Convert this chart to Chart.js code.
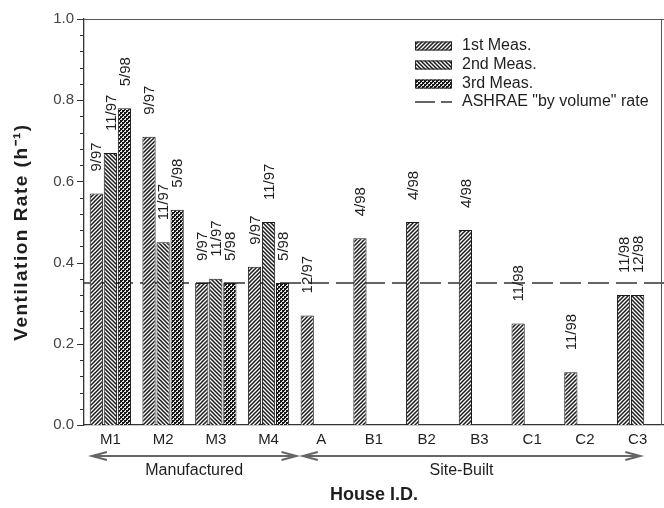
<!DOCTYPE html>
<html>
<head>
<meta charset="utf-8">
<script src="https://cdn.jsdelivr.net/npm/chart.js@4.4.1/dist/chart.umd.min.js"></script>
<style>
  html, body { margin: 0; padding: 0; background: #fff; overflow: hidden; }
  #wrap { width: 664px; height: 508px; position: relative; }
</style>
</head>
<body>
<div id="wrap"><canvas id="chart" width="664" height="508"></canvas></div>
<script>
// Houses and measured ventilation rates (h^-1)
const houses = ['M1', 'M2', 'M3', 'M4', 'A', 'B1', 'B2', 'B3', 'C1', 'C2', 'C3'];
const meas1 = [0.57, 0.71, 0.35, 0.39, 0.27, 0.46, 0.50, 0.48, 0.25, 0.13, 0.32];
const meas2 = [0.67, 0.45, 0.36, 0.50, null, null, null, null, null, null, 0.32];
const meas3 = [0.78, 0.53, 0.35, 0.35, null, null, null, null, null, null, null];

// Measurement dates shown above each bar
const dates1 = ['9/97', '9/97', '9/97', '9/97', '12/97', '4/98', '4/98', '4/98', '11/98', '11/98', '11/98'];
const dates2 = ['11/97', '11/97', '11/97', '11/97', '', '', '', '', '', '', '12/98'];
const dates3 = ['5/98', '5/98', '5/98', '5/98', '', '', '', '', '', '', ''];

const seriesNames = ['1st Meas.', '2nd Meas.', '3rd Meas.'];
const ashraeRate = 0.35;
const ashraeName = 'ASHRAE "by volume" rate';

// Axis range and tick spacing
const yMin = 0, yMax = 1.0, yMajorStep = 0.2, yMinorStep = 0.04;

// House groupings shown with arrows under the axis
const groupNames = ['Manufactured', 'Site-Built'];
const groupFrom = ['M1', 'A'];
const groupTo = ['M4', 'C3'];

const FONT = '"Liberation Sans", Arial, Helvetica, sans-serif';
Chart.defaults.font.family = FONT;

function isMajor(v) {
  const r = v / yMajorStep;
  return Math.abs(r - Math.round(r)) < 1e-6;
}

// Fill patterns for the bars
function hatchPattern(forward) {
  const s = 4;
  const c = document.createElement('canvas');
  c.width = c.height = s;
  const g = c.getContext('2d');
  g.fillStyle = '#fff';
  g.fillRect(0, 0, s, s);
  g.strokeStyle = '#1a1a1a';
  g.lineWidth = 1.5;
  g.beginPath();
  if (forward) {
    g.moveTo(-1, s + 1); g.lineTo(s + 1, -1);
    g.moveTo(-1, 1); g.lineTo(1, -1);
    g.moveTo(s - 1, s + 1); g.lineTo(s + 1, s - 1);
  } else {
    g.moveTo(-1, -1); g.lineTo(s + 1, s + 1);
    g.moveTo(s - 1, -1); g.lineTo(s + 1, 1);
    g.moveTo(-1, s - 1); g.lineTo(1, s + 1);
  }
  g.stroke();
  return g.createPattern(c, 'repeat');
}
function checkerPattern() {
  const c = document.createElement('canvas');
  c.width = c.height = 4;
  const g = c.getContext('2d');
  g.fillStyle = '#e8e8e8';
  g.fillRect(0, 0, 4, 4);
  g.fillStyle = '#161616';
  g.fillRect(0, 0, 2, 2);
  g.fillRect(2, 2, 2, 2);
  g.fillRect(2, 0, 1, 1);
  g.fillRect(0, 2, 1, 1);
  return g.createPattern(c, 'repeat');
}
const fills = [hatchPattern(true), hatchPattern(false), checkerPattern()];
const dateSets = [dates1, dates2, dates3];

// White page background
const background = {
  id: 'background',
  beforeDraw(chart) {
    const ctx = chart.ctx;
    ctx.save();
    ctx.fillStyle = '#fff';
    ctx.fillRect(0, 0, chart.width, chart.height);
    ctx.restore();
  }
};

// ASHRAE reference rate, dashed across the plot
const ashraeLine = {
  id: 'ashraeLine',
  beforeDatasetsDraw(chart) {
    const { ctx, chartArea } = chart;
    const y = chart.scales.y.getPixelForValue(ashraeRate);
    ctx.save();
    ctx.strokeStyle = '#333';
    ctx.lineWidth = 1.5;
    ctx.setLineDash([21, 7]);
    ctx.beginPath();
    ctx.moveTo(chartArea.left, y);
    ctx.lineTo(chartArea.right, y);
    ctx.stroke();
    ctx.restore();
  }
};

// Vertical date labels above the bars
const dateLabels = {
  id: 'dateLabels',
  afterDatasetsDraw(chart) {
    const ctx = chart.ctx;
    ctx.save();
    ctx.font = '15px ' + FONT;
    ctx.fillStyle = '#1e1e1e';
    ctx.textAlign = 'left';
    ctx.textBaseline = 'middle';
    chart.data.datasets.forEach((ds, di) => {
      const meta = chart.getDatasetMeta(di);
      meta.data.forEach((bar, i) => {
        const txt = dateSets[di][i];
        if (!txt || ds.data[i] == null) return;
        ctx.save();
        ctx.translate(bar.x + 1, bar.y - 22);
        ctx.rotate(-Math.PI / 2);
        ctx.fillText(txt, 0, 0);
        ctx.restore();
      });
    });
    ctx.restore();
  }
};

// Frame, minor/major ticks, legend, group arrows and the y title
const decorations = {
  id: 'decorations',
  afterDraw(chart) {
    const { ctx, chartArea } = chart;
    const ys = chart.scales.y;
    const xs = chart.scales.x;
    ctx.save();

    // top and right frame
    ctx.strokeStyle = '#555';
    ctx.lineWidth = 1;
    ctx.beginPath();
    ctx.moveTo(chartArea.left - 6, chartArea.top + 0.5);
    ctx.lineTo(chartArea.right, chartArea.top + 0.5);
    ctx.moveTo(chartArea.right - 2.5, chartArea.top);
    ctx.lineTo(chartArea.right - 2.5, chartArea.bottom);
    ctx.stroke();

    // y ticks
    ctx.strokeStyle = '#333';
    ctx.lineWidth = 1.2;
    ctx.beginPath();
    ys.ticks.forEach(t => {
      const py = Math.round(ys.getPixelForValue(t.value)) + 0.5;
      const len = isMajor(t.value) ? 7 : 4;
      ctx.moveTo(chartArea.left - len, py);
      ctx.lineTo(chartArea.left, py);
    });
    ctx.stroke();

    // legend
    const lx = chartArea.right - 249, ly = chartArea.top + 27, step = 19;
    const bw = 37, bh = 9;
    ctx.font = '16px ' + FONT;
    ctx.textAlign = 'left';
    ctx.textBaseline = 'middle';
    chart.data.datasets.forEach((ds, i) => {
      const cy = ly + i * step;
      ctx.fillStyle = ds.backgroundColor;
      ctx.fillRect(lx, cy - bh / 2, bw, bh);
      ctx.strokeStyle = '#222';
      ctx.lineWidth = 1;
      ctx.strokeRect(lx + 0.5, cy - bh / 2 + 0.5, bw - 1, bh - 1);
      ctx.fillStyle = '#1e1e1e';
      ctx.fillText(ds.label, lx + 47, cy);
    });
    const ay = ly + 3 * step - 1;
    ctx.strokeStyle = '#333';
    ctx.lineWidth = 1.5;
    ctx.beginPath();
    ctx.moveTo(lx, ay); ctx.lineTo(lx + 20, ay);
    ctx.moveTo(lx + 26, ay); ctx.lineTo(lx + bw, ay);
    ctx.stroke();
    ctx.fillStyle = '#1e1e1e';
    ctx.fillText(ashraeName, lx + 47, ay);

    // group arrows
    const w = xs.width / houses.length;
    const arrowY = chartArea.bottom + 31;
    const head = (x, dir) => {
      ctx.moveTo(x + dir * 15, arrowY - 4);
      ctx.lineTo(x, arrowY);
      ctx.lineTo(x + dir * 15, arrowY + 4);
    };
    groupNames.forEach((name, gi) => {
      const i0 = houses.indexOf(groupFrom[gi]);
      const i1 = houses.indexOf(groupTo[gi]);
      const x0 = xs.getPixelForValue(i0) - 0.35 * w;
      const x1 = xs.getPixelForValue(i1) + (gi === 0 ? 0.53 : 0.05) * w;
      ctx.strokeStyle = '#666';
      ctx.lineWidth = 2;
      ctx.beginPath();
      ctx.moveTo(x0, arrowY);
      ctx.lineTo(x1, arrowY);
      head(x0, 1);
      head(x1, -1);
      ctx.stroke();
      ctx.fillStyle = '#1e1e1e';
      ctx.font = '16px ' + FONT;
      ctx.textAlign = 'center';
      ctx.textBaseline = 'middle';
      const tx = gi === 0 ? (x0 + x1) / 2 : (x0 + x1) / 2 - 10;
      ctx.fillText(name, tx, arrowY + 15);
    });

    // y axis title
    ctx.save();
    ctx.translate(22, (chartArea.top + chartArea.bottom) / 2 + 10);
    ctx.rotate(-Math.PI / 2);
    ctx.font = 'bold 19px ' + FONT;
    ctx.letterSpacing = '1.5px';
    ctx.fillStyle = '#1e1e1e';
    ctx.textAlign = 'center';
    ctx.textBaseline = 'middle';
    ctx.fillText('Ventilation Rate (h\u207B\u00B9)', 0, 0);
    ctx.restore();

    ctx.restore();
  }
};

new Chart(document.getElementById('chart'), {
  type: 'bar',
  data: {
    labels: houses,
    datasets: [meas1, meas2, meas3].map((d, i) => ({
      label: seriesNames[i],
      data: d,
      backgroundColor: fills[i],
      borderColor: '#1a1a1a',
      borderWidth: 1,
      borderSkipped: 'bottom',
      categoryPercentage: 0.8,
      barPercentage: 0.94
    }))
  },
  options: {
    responsive: false,
    animation: false,
    layout: { padding: { top: 16, right: 0, bottom: 0, left: 0 } },
    plugins: {
      legend: { display: false },
      tooltip: { enabled: false }
    },
    scales: {
      x: {
        grid: { display: false, drawTicks: false },
        border: { display: true, color: '#333', width: 1.3 },
        ticks: { font: { size: 15 }, color: '#1e1e1e', padding: 6 },
        title: {
          display: true,
          text: 'House I.D.',
          font: { size: 18, weight: 'bold' },
          color: '#1e1e1e',
          padding: { top: 0, bottom: 2 }
        },
        afterFit(scale) { scale.height = 83; }
      },
      y: {
        min: yMin,
        max: yMax,
        grid: { display: false, drawTicks: false },
        border: { display: true, color: '#333', width: 1.3 },
        ticks: {
          stepSize: yMinorStep,
          autoSkip: false,
          maxTicksLimit: 100,
          padding: 10,
          font: { size: 15 },
          color: '#444',
          callback: v => isMajor(v) ? Number(v).toFixed(1) : ''
        },
        afterFit(scale) { scale.width = 84; }
      }
    }
  },
  plugins: [background, ashraeLine, dateLabels, decorations]
});
</script>
</body>
</html>
